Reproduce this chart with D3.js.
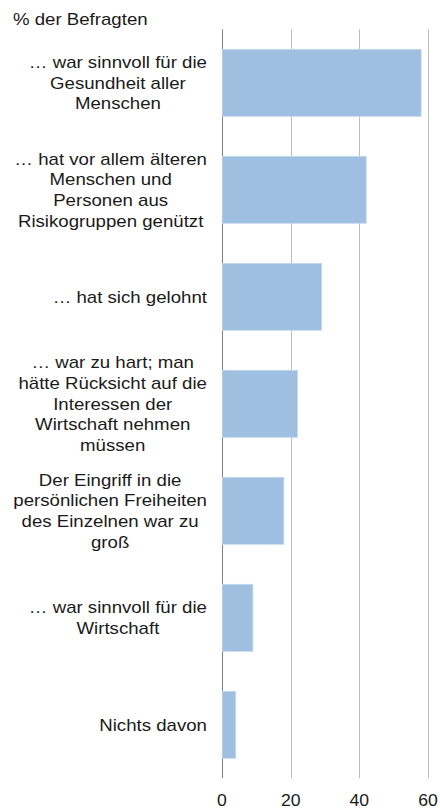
<!DOCTYPE html>
<html><head><meta charset="utf-8">
<script src="https://cdn.jsdelivr.net/npm/d3@7/dist/d3.min.js"></script>
<style>body{margin:0;background:#fff}svg{display:block}text{font-family:"Liberation Sans",Arial,sans-serif;fill:#1a1a1a}</style>
</head><body><svg id="c" width="440" height="809"></svg>
<script>
const categories = [
  ["… war sinnvoll für die","Gesundheit aller","Menschen"],
  ["… hat vor allem älteren","Menschen und","Personen aus","Risikogruppen genützt"],
  ["… hat sich gelohnt"],
  ["… war zu hart; man","hätte Rücksicht auf die","Interessen der","Wirtschaft nehmen","müssen"],
  ["Der Eingriff in die","persönlichen Freiheiten","des Einzelnen war zu","groß"],
  ["… war sinnvoll für die","Wirtschaft"],
  ["Nichts davon"]
];
const values = [58, 42, 29, 22, 18, 9, 4];
const tickValues = [0, 20, 40, 60];
const unitLabel = "% der Befragten";

const svg = d3.select("#c");
const x = d3.scaleLinear().domain([0, 60]).range([222, 428]);
const y = d3.scaleBand().domain(d3.range(categories.length)).range([29.3, 778.3]).paddingInner(0.374).paddingOuter(0.187);
const sx = 1.165;

// grid
svg.append("g").selectAll("line").data(tickValues).join("line")
  .attr("x1", d => Math.round(x(d)) + 0.5).attr("x2", d => Math.round(x(d)) + 0.5)
  .attr("y1", 29.3).attr("y2", 778)
  .attr("stroke", d => d === 0 ? "#808080" : "#bdbdbd").attr("stroke-width", 1);

// bars
svg.append("g").selectAll("rect").data(values).join("rect")
  .attr("x", x(0) + 0.5).attr("y", (d, i) => y(i))
  .attr("width", d => x(d) - x(0) - 0.5).attr("height", y.bandwidth())
  .attr("fill", "#9ebfe0").attr("stroke", "#c4d9ee").attr("stroke-width", 0.8);

// category labels
const lh = 20.7, rightEdge = 207;
const lg = svg.append("g").attr("font-size", 16);
categories.forEach((lines, i) => {
  const cy = y(i) + y.bandwidth() / 2;
  const ts = lines.map((l, j) => lg.append("text").attr("text-anchor", "middle").text(l)
    .datum(cy + (j - (lines.length - 1) / 2) * lh + 5.8));
  const maxW = d3.max(ts, s => s.node().getComputedTextLength()) * sx;
  ts.forEach(s => s.attr("transform", `translate(${rightEdge - maxW / 2},${s.datum()}) scale(${sx},1)`));
});

// x axis tick labels
svg.append("g").attr("font-size", 16).selectAll("text").data(tickValues).join("text")
  .attr("transform", d => `translate(${x(d)},806) scale(1.1,1)`).attr("text-anchor", "middle").text(d => d);

// unit label
svg.append("text").attr("transform", `translate(13,25) scale(${sx},1)`).attr("font-size", 16).text(unitLabel);
</script></body></html>
